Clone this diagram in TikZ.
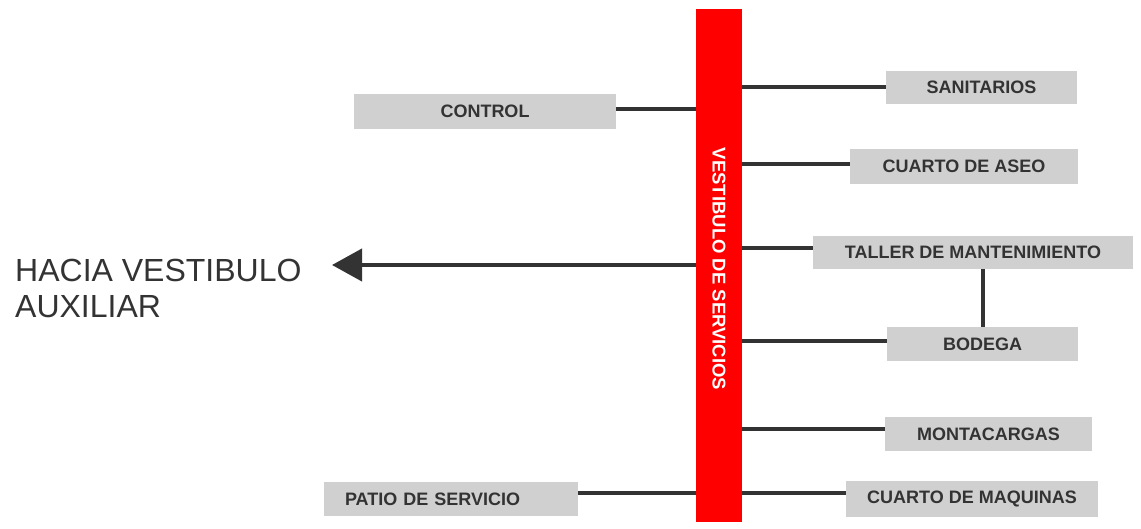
\documentclass[tikz,border=0pt]{standalone}
\usepackage{fontspec}
\setmainfont{Liberation Sans}
\usetikzlibrary{arrows.meta}
\definecolor{boxgray}{HTML}{D0D0D0}
\definecolor{ink}{HTML}{333333}
\definecolor{barred}{HTML}{FF0000}
\begin{document}
\begin{tikzpicture}[x=1pt,y=-1pt,
  room/.style={fill=boxgray, draw=none, inner sep=0pt, font=\fontsize{18}{20}\selectfont\bfseries, text=ink},
  link/.style={draw=ink, line width=4pt},
  hall/.style={fill=barred, draw=none, inner sep=0pt}]
\useasboundingbox (0,0) rectangle (1141,529);
\fill[white] (0,0) rectangle (1141,529);
% central hall
\node[hall, minimum width=46pt, minimum height=513pt] (bar) at (719,265.5) {};
\node[rotate=-90, text=white, font=\fontsize{18.5}{20}\selectfont\bfseries] (barlabel) at (719,269) {VESTIBULO DE SERVICIOS};
% right rooms
\node[room, minimum width=191pt, minimum height=33pt] (san) at (981.5,87.5) {SANITARIOS};
\node[room, minimum width=228pt, minimum height=35pt] (ase) at (964,166.5) {CUARTO DE ASEO};
\node[room, minimum width=320pt, minimum height=33pt] (tal) at (973,252.5) {TALLER DE MANTENIMIENTO};
\node[room, minimum width=191pt, minimum height=34pt] (bod) at (982.5,344) {BODEGA};
\node[room, minimum width=207pt, minimum height=34pt] (mon) at (988.5,434) {MONTACARGAS};
\node[room, minimum width=252pt, minimum height=36pt] (maq) at (972,499) {CUARTO DE MAQUINAS};
% left rooms
\node[room, minimum width=262pt, minimum height=35pt] (con) at (485,111.5) {CONTROL};
\node[room, minimum width=254pt, minimum height=34pt, text width=212pt, align=left, inner xsep=21pt] (pat) at (451,499) {PATIO DE SERVICIO};
% connectors right
\draw[link] ([yshift=0.5pt]san.west) -- ([yshift=0.5pt]san.west -| bar.east);
\draw[link] ([yshift=2.5pt]ase.west) -- ([yshift=2.5pt]ase.west -| bar.east);
\draw[link] ([yshift=4pt]tal.west) -- ([yshift=4pt]tal.west -| bar.east);
\draw[link] ([yshift=3pt]bod.west) -- ([yshift=3pt]bod.west -| bar.east);
\draw[link] ([yshift=5pt]mon.west) -- ([yshift=5pt]mon.west -| bar.east);
\draw[link] ([yshift=6pt]maq.west) -- ([yshift=6pt]maq.west -| bar.east);
\draw[link] (bod.north) -- (bod.north |- tal.south);
% connectors left
\draw[link] ([yshift=2.5pt]con.east) -- ([yshift=2.5pt]con.east -| bar.west);
\draw[link] ([yshift=6pt]pat.east) -- ([yshift=6pt]pat.east -| bar.west);
% arrow
\coordinate (tip) at (332,265);
\draw[link, -{Triangle[length=30pt,width=32pt]}] (tip -| bar.west) -- (tip);
\node[anchor=north west, inner sep=0pt, align=left, text=ink, font=\fontsize{32}{36}\selectfont] (dest) at (15,259) {HACIA VESTIBULO\\AUXILIAR};
\end{tikzpicture}
\end{document}
